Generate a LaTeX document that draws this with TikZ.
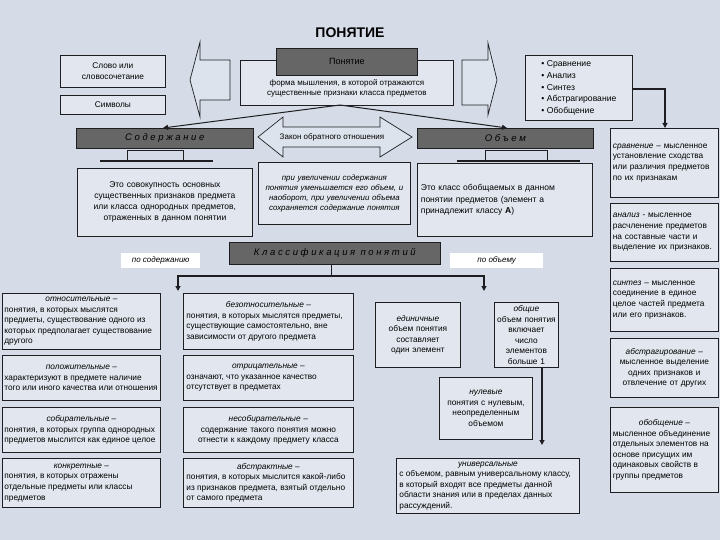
\documentclass[tikz,border=0pt]{standalone}
\usepackage{fontspec}
\setmainfont{Liberation Sans}
\usetikzlibrary{arrows.meta}
\definecolor{bg}{HTML}{D5DCE7}
\definecolor{boxfill}{HTML}{E2E7EF}
\definecolor{ln}{HTML}{1E1E22}
\newcommand\hb[3]{\textit{#2} –\\\parbox[t]{#1pt}{\raggedright #3}}
\tikzset{
  box/.style={draw=ln, line width=0.8pt, fill=boxfill, anchor=north west, inner sep=2pt, font=\fontsize{8.3}{10.6}\selectfont, align=center},
  lbox/.style={box, align=left},
  bar/.style={draw=ln, line width=0.6pt, anchor=north west, left color=gray!80!black, middle color=white!95!gray, right color=gray!80!black, font=\fontsize{9.5}{11}\selectfont\itshape, inner sep=0pt},
  lab/.style={fill=white, anchor=north west, inner sep=0pt, font=\fontsize{8}{9}\selectfont\itshape},
  conn/.style={draw=ln, line width=1.2pt, -{Triangle[length=5pt,width=5pt]}},
  blk/.style={draw=ln, line width=0.7pt, fill=boxfill!60!bg}
}
\begin{document}
\begin{tikzpicture}[x=1pt,y=-1pt]
\fill[bg] (0,0) rectangle (720,540);
\useasboundingbox (0,0) rectangle (720,540);
\node[font=\fontsize{14}{16}\selectfont\bfseries] (title) at (350,33) {ПОНЯТИЕ};
% top left
\node[box, minimum width=105, minimum height=32] (word) at (60,55) {Слово или\\словосочетание};
\node[box, minimum width=105, minimum height=19] (sym) at (60,95) {Символы};
\path[blk] (190,80) -- (200,42) -- (200,60) -- (230,60) -- (230,100) -- (200,100) -- (200,117) -- cycle;
% concept
\node[box, minimum width=213, minimum height=45, font=\fontsize{8}{10}\selectfont] (def) at (240,60) {\\[7pt]форма мышления, в которой отражаются\\существенные признаки класса предметов};
\node[bar, minimum width=141, minimum height=27, font=\fontsize{9}{10}\selectfont] (concept) at (276,48) {Понятие};
\path[blk] (462,60) -- (488,60) -- (488,43) -- (497,80) -- (488,115) -- (488,105) -- (462,105) -- cycle;
\node[lbox, minimum width=107, minimum height=65, font=\fontsize{8.6}{11.8}\selectfont] (ops) at (525,55) {• Сравнение\\• Анализ\\• Синтез\\• Абстрагирование\\• Обобщение};
% content / volume bars
\node[bar, minimum width=177, minimum height=20] (cont) at (76,128) {С о д е р ж а н и е};
\node[bar, minimum width=176, minimum height=20] (vol) at (417,128) {О б ъ е м};
\coordinate (split) at (340,105);
\draw[conn, line width=1pt] (split) -- (163,128);
\draw[conn, line width=1pt] (split) -- (507,128);
% brackets
\draw[ln, line width=0.8pt] (127,160) -- (127,150) -- (183,150) -- (183,160);
\draw[ln, line width=1.2pt] (100,161) -- (213,161);
\draw[ln, line width=0.8pt] (485,160) -- (485,150) -- (547,150) -- (547,160);
\draw[ln, line width=1.2pt] (457,161) -- (580,161);
% law arrow
\path[blk] (258,137) -- (283,117) -- (283,127) -- (380,127) -- (380,117) -- (412,137) -- (380,157) -- (380,147) -- (283,147) -- (283,157) -- cycle;
\node[font=\fontsize{8}{9}\selectfont] (law) at (332,137) {Закон обратного отношения};
\node[box, minimum width=175, minimum height=68, text width=168, font=\fontsize{8.5}{11}\selectfont] (contdef) at (77,168) {Это совокупность основных существенных признаков предмета или класса однородных предметов, отраженных в данном понятии};
\node[box, minimum width=152, minimum height=62, text width=146, font=\fontsize{7.9}{10.2}\selectfont\itshape] (lawdef) at (258,162) {при увеличении содержания понятия уменьшается его объем, и наоборот, при увеличении объема сохраняется содержание понятия};
\node[lbox, minimum width=175, minimum height=73, text width=168, font=\fontsize{8.5}{11.5}\selectfont] (voldef) at (417,163) {Это класс обобщаемых в данном понятии предметов (элемент а принадлежит классу \textbf{А})};
% classification
\node[bar, minimum width=211, minimum height=22] (cls) at (229,242) {К л а с с и ф и к а ц и я\ \ п о н я т и й};
\node[lab, minimum width=79, minimum height=15] (bycont) at (121,253) {по содержанию};
\node[lab, minimum width=93, minimum height=15] (byvol) at (450,253) {по объему};
\coordinate (c1) at (331,276);
\coordinate (lft) at (178,276);
\coordinate (rgt) at (484,276);
\coordinate (lftend) at (178,291);
\coordinate (rgtend) at (484,291);
\draw[ln, line width=1pt] (cls.south -| c1) -- (c1);
% left column
\node[box, minimum width=158, minimum height=56] (rel) at (2,293) {\hb{154}{относительные}{понятия, в которых мыслятся предметы, существование одного из которых предполагает существование другого}};
\node[box, minimum width=158, minimum height=45] (pos) at (2,355) {\hb{154}{положительные}{характеризуют в предмете наличие того или иного качества или отношения}};
\node[box, minimum width=158, minimum height=45] (col) at (2,407) {\hb{154}{собирательные}{понятия, в которых группа однородных предметов мыслится как единое целое}};
\node[box, minimum width=158, minimum height=49] (conc) at (2,458) {\hb{154}{конкретные}{понятия, в которых отражены отдельные предметы или классы предметов}};
\node[box, minimum width=170, minimum height=56] (abs) at (183,293) {\hb{164}{безотносительные}{понятия, в которых мыслятся предметы, существующие самостоятельно, вне зависимости от другого предмета}};
\node[box, minimum width=170, minimum height=45] (neg) at (183,355) {\hb{164}{отрицательные}{означают, что указанное качество отсутствует в предметах}};
\node[box, minimum width=170, minimum height=45, text width=164] (ncol) at (183,407) {\textit{несобирательные} –\\содержание такого понятия можно отнести к каждому предмету класса};
\node[box, minimum width=170, minimum height=49] (abstr) at (183,458) {\hb{164}{абстрактные}{понятия, в которых мыслится какой-либо из признаков предмета, взятый отдельно от самого предмета}};
\draw[conn] (c1) -- (lft) -- (lftend);
% right lower
\node[box, minimum width=85, minimum height=65, text width=80] (single) at (375,302) {\textit{единичные}\\объем понятия составляет один элемент};
\node[box, minimum width=63, minimum height=65, text width=60] (gen) at (494,302) {\textit{общие}\\объем понятия включает число элементов больше 1};
\node[box, minimum width=93, minimum height=62, text width=88] (null) at (439,377) {\textit{нулевые}\\понятия с нулевым, неопределенным объемом};
\node[box, minimum width=183, minimum height=55] (univ) at (396,458) {\textit{универсальные}\\\parbox[t]{177pt}{\raggedright с объемом, равным универсальному классу, в который входят все предметы данной области знания или в пределах данных рассуждений.}};
\draw[conn] (c1) -- (rgt) -- (rgtend);
\coordinate (gx) at (542,367);
\coordinate (gxend) at (542,445);
\draw[conn] (gx) -- (gxend);
% right column
\node[lbox, minimum width=108, minimum height=69, text width=103] (cmp) at (610,128) {\textit{сравнение} – мысленное установление сходства или различия предметов по их признакам};
\node[lbox, minimum width=108, minimum height=58, text width=103] (anl) at (610,203) {\textit{анализ} - мысленное расчленение предметов на составные части и выделение их признаков.};
\node[lbox, minimum width=108, minimum height=63, text width=103] (syn) at (610,268) {\textit{синтез} – мысленное соединение в единое целое частей предмета или его признаков.};
\node[box, minimum width=108, minimum height=59, text width=103] (abg) at (610,338) {\textit{абстрагирование} –\\мысленное выделение одних признаков и отвлечение от других};
\node[box, minimum width=108, minimum height=85] (gnr) at (610,407) {\hb{103}{обобщение}{мысленное объединение отдельных элементов на основе присущих им одинаковых свойств в группы предметов}};
\coordinate (oc) at (665,89);
\draw[conn] (ops.east |- oc) -- (oc) -- (cmp.north -| oc);
\end{tikzpicture}
\end{document}
